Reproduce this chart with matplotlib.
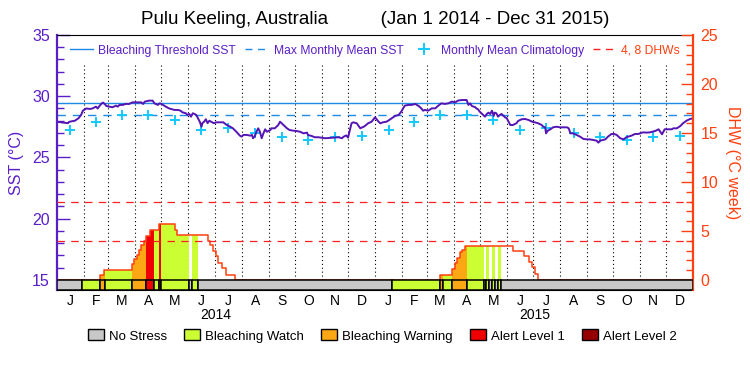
import numpy as np
import matplotlib.pyplot as plt
from matplotlib.lines import Line2D
from matplotlib.patches import Patch
from matplotlib.ticker import FixedLocator
from matplotlib.transforms import blended_transform_factory

plt.rcParams['font.family'] = ['Liberation Sans', 'DejaVu Sans']

# x values are days since Jan 1 2014
sst_day = [0, 7, 13, 14, 17, 21, 22, 25, 28, 30, 34, 38, 41, 45, 47, 49, 51, 53, 55, 57,
           60, 64, 68, 70, 72, 76, 79, 83, 87, 91, 97, 99, 101, 106, 110, 112, 116, 118, 120, 122,
           125, 129, 135, 139, 142, 144, 148, 150, 152, 154, 156, 158, 160, 162, 164, 166, 167, 169, 171, 173,
           175, 177, 180, 183, 191, 195, 199, 202, 206, 210, 212, 214, 218, 222, 224, 225, 227, 229, 231, 233,
           235, 237, 239, 241, 245, 246, 250, 254, 256, 258, 260, 264, 267, 271, 275, 279, 283, 287, 288, 292,
           296, 300, 308, 317, 323, 327, 329, 332, 334, 336, 338, 340, 344, 348, 353, 357, 361, 365, 369, 371,
           374, 378, 380, 384, 388, 392, 395, 399, 403, 407, 411, 415, 418, 420, 422, 426, 430, 434, 437, 441,
           445, 449, 453, 457, 460, 464, 470, 472, 474, 476, 480, 481, 483, 485, 489, 491, 493, 495, 497, 499,
           501, 502, 504, 506, 508, 510, 512, 514, 516, 518, 520, 523, 527, 529, 533, 537, 541, 545, 548, 552,
           556, 558, 560, 561, 563, 566, 569, 573, 577, 585, 587, 589, 592, 596, 600, 604, 608, 611, 615, 619,
           621, 623, 629, 632, 636, 639, 642, 646, 650, 653, 655, 659, 663, 667, 671, 673, 676, 680, 686, 690,
           692, 694, 697, 701, 705, 707, 711, 715, 718, 722, 726, 730]
sst_val = [27.92, 27.85, 27.80, 27.90, 27.95, 28.00, 28.06, 28.20, 28.47, 28.82, 29.00, 28.96, 29.00, 29.15, 29.00, 29.20, 29.37, 29.48, 29.37, 29.20,
           29.15, 29.10, 29.23, 29.15, 29.29, 29.29, 29.37, 29.37, 29.50, 29.50, 29.50, 29.37, 29.56, 29.64, 29.64, 29.42, 29.29, 29.42, 29.37, 29.29,
           29.15, 29.00, 28.88, 28.88, 28.82, 28.69, 28.61, 28.47, 28.55, 28.33, 28.61, 28.55, 28.47, 28.20, 27.92, 27.51, 27.80, 27.92, 28.12, 27.80,
           28.00, 27.92, 27.80, 27.87, 27.87, 27.65, 27.51, 27.38, 27.10, 26.78, 26.70, 26.84, 26.84, 26.78, 26.84, 26.57, 26.70, 27.10, 27.38, 27.10,
           26.57, 26.97, 27.30, 27.10, 27.24, 27.38, 27.38, 27.65, 27.92, 27.79, 27.65, 27.38, 27.24, 27.19, 27.16, 27.10, 26.97, 27.03, 26.84, 26.76,
           26.65, 26.65, 26.57, 26.62, 26.65, 26.57, 26.70, 26.80, 26.62, 27.20, 27.79, 27.87, 27.79, 27.38, 27.55, 27.79, 27.92, 28.28, 27.92, 27.79,
           27.87, 27.92, 28.00, 28.20, 28.39, 28.47, 28.74, 29.23, 29.29, 29.29, 29.37, 29.20, 29.01, 28.82, 28.88, 28.82, 29.01, 29.01, 29.20, 29.42,
           29.37, 29.42, 29.56, 29.50, 29.64, 29.69, 29.69, 29.29, 29.42, 29.20, 29.10, 29.01, 28.93, 28.74, 28.47, 28.33, 28.55, 28.66, 28.55, 28.82,
           28.39, 28.66, 28.61, 28.33, 28.47, 28.55, 28.42, 28.28, 28.20, 27.92, 27.65, 27.65, 27.79, 27.98, 28.12, 28.14, 28.06, 27.92, 27.87, 27.79,
           27.65, 27.51, 27.46, 26.97, 27.19, 27.30, 27.46, 27.51, 27.46, 27.46, 27.38, 26.97, 26.97, 26.84, 26.70, 26.51, 26.48, 26.48, 26.43, 26.37,
           26.21, 26.37, 26.48, 26.70, 26.92, 26.92, 26.84, 26.57, 26.48, 26.65, 26.70, 26.78, 26.92, 26.92, 27.03, 27.05, 27.03, 27.05, 27.16, 27.30,
           27.10, 26.89, 27.30, 27.30, 27.30, 27.38, 27.38, 27.57, 27.79, 28.00, 28.14, 28.20]

clim_val = [27.24, 27.87, 28.47, 28.47, 28.06, 27.24, 27.38, 26.97, 26.65, 26.43, 26.65, 26.78]
mmm = 28.47
bleach_thresh = 29.47

dhw_day = [0, 50, 54.5, 86, 89, 91.6, 94.2, 96.9, 99.6, 102.6, 106.9, 117.2, 135.2, 138.2,
           173.7, 176, 179, 182.1, 184.4, 189.7, 194.3, 204.6,
           439.5, 453.6, 456.7, 459.3, 462.4, 465, 468.1, 523.5, 536.1, 541.5, 544.5, 548.3, 552.2, 730]
dhw_val = [0, 0.48, 1.02, 1.63, 2.11, 2.55, 3.06, 3.54, 3.98, 4.49, 5.07, 5.68, 5.07, 4.59,
           4.01, 3.54, 2.96, 2.42, 1.76, 1.19, 0.48, 0,
           0.51, 1.09, 1.70, 2.28, 2.82, 3.10, 3.50, 2.99, 2.45, 1.87, 1.29, 0.61, 0, 0]

# alert level from each start day: 0 no stress, 1 watch, 2 warning, 3 alert 1, 4 alert 2
stress_start = [0, 29.4, 50, 55, 86, 102.8, 111.2, 117.3, 119.2, 151.7, 155.5, 162.4,
                384, 439.8, 442.8, 453.5, 470.7, 489.4, 492.1, 495.5, 499, 502.4, 505.8, 509.7]
stress_level = [0, 1, 2, 1, 2, 3, 1, 3, 1, 0, 1, 0,
                1, 2, 1, 2, 1, 0, 1, 0, 1, 0, 1, 0]

stress_names = ['No Stress', 'Bleaching Watch', 'Bleaching Warning', 'Alert Level 1', 'Alert Level 2']
stress_colors = ['#c8c8c8', '#ccff33', '#fca814', '#f00000', '#960000']
month_letters = list('JFMAMJJASOND') * 2

purple = '#5a1ec8'
sst_col = '#5514b4'
blue = '#1e8ce6'
cyan = '#14c8ff'
dhw_col = '#ff4010'
red = '#ff2020'

n_days = 730
months = np.arange('2014-01', '2016-01', dtype='datetime64[M]').astype('datetime64[D]')
m_start = (months - np.datetime64('2014-01-01')).astype(float)
m_end = np.append(m_start[1:], n_days)
m_mid = (m_start + m_end) / 2

sst_lim = (14.18, 35)
dhw_lim = ((sst_lim[0] - 15) * 1.25, 25)

fig = plt.figure(figsize=(7.5, 3.75), dpi=100)
ax = fig.add_axes([0.0756, 0.2267, 0.849, 0.68])
ax2 = ax.twinx()

# SST side
ax.vlines(m_start[1:], 15, 32.7, colors='black', linestyles=(0, (1, 2.5)), lw=0.8)
ax.axhline(bleach_thresh, color=blue, lw=1)
ax.axhline(mmm, color=blue, lw=1, ls=(0, (6, 5)))
ax.plot(m_mid, np.tile(clim_val, 2), ls='none', marker='+', ms=7, mew=1.4, color=cyan)
ax.plot(sst_day, sst_val, color=sst_col, lw=1.4)
ax.set_xlim(0, n_days)
ax.set_ylim(*sst_lim)

# DHW side
def dhw_at(x):
    idx = np.searchsorted(dhw_day, x, side='right') - 1
    return np.asarray(dhw_val)[idx]

seg_end = stress_start[1:] + [n_days]
for s0, s1, lev in zip(stress_start, seg_end, stress_level):
    if lev == 0:
        continue
    xs = [s0] + [d for d in dhw_day if s0 < d < s1] + [s1]
    ax2.fill_between(xs, dhw_at(xs), 0, step='post', color=stress_colors[lev], lw=0, zorder=1)

ax2.step(dhw_day, dhw_val, where='post', color=dhw_col, lw=1.1, zorder=2)
for lvl in (4, 8):
    ax2.axhline(lvl, color=red, lw=0.9, ls=(0, (6, 5)), zorder=2)

widths = np.array(seg_end) - np.array(stress_start)
ax2.bar(stress_start, -dhw_lim[0], width=widths, bottom=dhw_lim[0], align='edge',
        color=[stress_colors[l] for l in stress_level], edgecolor='black', lw=1.1, zorder=3)
ax2.set_ylim(*dhw_lim)

# axes styling
ax.spines['left'].set_color(purple)
ax.spines['left'].set_linewidth(1.6)
ax.spines['right'].set_visible(False)
ax2.spines['left'].set_visible(False)
ax2.spines['right'].set_color(dhw_col)
ax2.spines['right'].set_linewidth(1.6)
ax2.spines['top'].set_visible(False)
ax2.spines['bottom'].set_visible(False)

ax.yaxis.set_major_locator(FixedLocator([15, 20, 25, 30, 35]))
ax.yaxis.set_minor_locator(FixedLocator(range(15, 36)))
ax.tick_params(axis='y', which='major', direction='in', length=9, width=1, colors=purple,
               labelsize=11.5, pad=5)
ax.tick_params(axis='y', which='minor', direction='in', length=5, width=1, colors=purple)
ax.set_ylabel('SST (°C)', color=purple, fontsize=11.5, labelpad=6)

ax2.yaxis.set_major_locator(FixedLocator([0, 5, 10, 15, 20, 25]))
ax2.yaxis.set_minor_locator(FixedLocator(range(0, 26)))
ax2.tick_params(axis='y', which='major', direction='in', length=9, width=1, colors=dhw_col,
                labelsize=11.5, pad=5)
ax2.tick_params(axis='y', which='minor', direction='in', length=5, width=1, colors=dhw_col)
ax2.set_ylabel('DHW (°C week)', color=dhw_col, fontsize=11.5, rotation=270, labelpad=16)

ax.set_xticks(m_mid)
ax.set_xticklabels(month_letters)
ax.tick_params(axis='x', length=0, labelsize=10, pad=3)
trans = blended_transform_factory(ax.transData, ax.transAxes)
for yr, x0 in zip(['2014', '2015'], [0, 365]):
    ax.text(x0 + 182.5, -0.1, yr, transform=trans, ha='center', va='center', fontsize=10)

fig.text(0.5, 0.947, 'Pulu Keeling, Australia          (Jan 1 2014 - Dec 31 2015)',
         ha='center', va='center', fontsize=13.5)

handles = [Line2D([], [], color=blue, lw=1),
           Line2D([], [], color=blue, lw=1, ls=(0, (5, 4))),
           Line2D([], [], color=cyan, ls='none', marker='+', ms=8, mew=1.4),
           Line2D([], [], color=red, lw=1, ls=(0, (5, 4)))]
labels = ['Bleaching Threshold SST', 'Max Monthly Mean SST', 'Monthly Mean Climatology', '4, 8 DHWs']
leg = ax2.legend(handles, labels, ncol=4, loc='upper center', bbox_to_anchor=(0.5, 1.0),
                 frameon=False, fontsize=8.7, handlelength=1.9, handletextpad=0.45,
                 columnspacing=0.75, borderaxespad=0.4)
for t, c in zip(leg.get_texts(), [purple, purple, purple, dhw_col]):
    t.set_color(c)

patches = [Patch(facecolor=c, edgecolor='black', lw=1) for c in stress_colors]
fig.legend(patches, stress_names, ncol=5, loc='center', bbox_to_anchor=(0.51, 0.104),
           frameon=False, fontsize=9.5, handlelength=1.2, handleheight=0.9,
           handletextpad=0.4, columnspacing=1.3)

fig.savefig('out.png', dpi=100)
